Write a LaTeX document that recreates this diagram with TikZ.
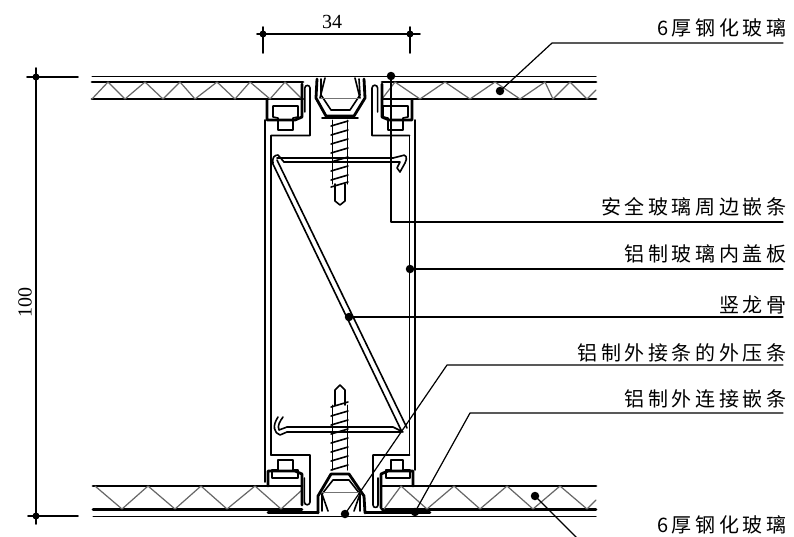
\documentclass[tikz,border=0pt]{standalone}
\usepackage{fontspec}
\setmainfont{Liberation Serif}
\newfontfamily\cjk[LetterSpace=18]{Noto Sans CJK SC}
\begin{document}
\begin{tikzpicture}[x=1pt,y=-1pt,line cap=round,line join=round,
 thinline/.style={line width=1pt},
 medline/.style={line width=1.6pt},
 heavyline/.style={line width=2.8pt},
 webline/.style={line width=1.2pt,black!60},
 leader/.style={line width=1.2pt},
 lab/.style={font=\cjk\fontsize{20}{22}\selectfont,anchor=base east,inner sep=0pt},
 num/.style={font=\fontsize{20}{22}\selectfont,inner sep=0pt},
 dotmark/.style={circle,fill=black,inner sep=0pt,minimum size=8.5pt},
 blob/.style={circle,fill=black,inner sep=0pt,minimum size=7pt}]
\useasboundingbox (0,0) rectangle (794,536);
\fill[white] (0,0) rectangle (794,536);
% ---- top panel
\draw[thinline] (92,76.5) -- (596,76.5);
\draw[heavyline] (92,82) -- (303,82) (382,82) -- (596,82);
\draw[heavyline] (92,99) -- (303,99) (382,99) -- (596,99);
\draw[webline] (92,99) -- (108,82) -- (125,99) -- (145,82) -- (163,99) -- (180,82) -- (195,99) -- (217,82) -- (235,99) -- (250,82) -- (270,99) -- (285,82) -- (302,99);
\draw[webline] (382,99) -- (395,82) -- (420,99) -- (445,82) -- (470,99) -- (495,82) -- (520,99) -- (545,82) -- (553,99) -- (570,82) -- (587,99) -- (596,90);
% ---- bottom panel
\draw[heavyline] (93,486) -- (302,486) (382,486) -- (596,486);
\draw[heavyline] (93,509.5) -- (302,509.5) (382,509.5) -- (596,509.5);
\draw[thinline] (93,516) -- (596,516);
\draw[heavyline] (268,512.5) -- (318,512.5) (366,512.5) -- (430,512.5);
\draw[webline] (95,486) -- (122,509) -- (148,486) -- (175,509) -- (201,486) -- (227,509) -- (255,486) -- (281,509) -- (302,490);
\draw[webline] (384,509) -- (401,486) -- (427,509) -- (454,486) -- (480,509) -- (507,486) -- (533,509) -- (560,486) -- (587,509) -- (596,500);
% ---- mullion, top half
\draw[medline] (265,120) -- (265,482);
\draw[medline] (271,136) -- (271,455);
\draw[medline] (415,120) -- (415,470);
\draw[medline] (409.5,136) -- (409.5,455);
\draw[medline] (271,135.5) -- (310,135.5) -- (310,88) arc (0:-180:2.6) -- (304.8,112);
\draw[medline] (409.5,135.5) -- (372,135.5) -- (372,88) arc (180:360:2.8) -- (377.6,112);
% top gasket seats
\draw[heavyline] (302,84) -- (302,117) -- (295,120) -- (267,120) -- (267,100);
\draw[heavyline] (382,84) -- (382,117) -- (389,120) -- (412,120) -- (412,100);
\draw[medline] (273,106) -- (298,106) -- (298,117) -- (293,118) -- (293,130) -- (278,130) -- (278,118) -- (273,117) -- cycle;
\draw[medline] (383,106) -- (408,106) -- (408,117) -- (403,118) -- (403,130) -- (388,130) -- (388,118) -- (383,117) -- cycle;
% top cover cap
\draw[heavyline] (317,79) -- (316,98) -- (326,116) -- (354,116) -- (365,98) -- (364,79);
\draw[medline] (321,79) -- (321,95) -- (331,110) -- (350,110) -- (360,95) -- (359,79);
\draw[medline] (325,78) -- (320,98) (355,78) -- (360,98);
\draw[thinline,black!55] (320,98) -- (360,98);
\draw[medline] (322,118) -- (358,118);
\draw[thinline] (303,76.5) -- (314,76.5) (366,76.5) -- (382,76.5);
% top screw
\draw[thinline] (332,120) -- (332,184) (347,120) -- (347,184);
\draw[medline] (335,184) -- (335,201) -- (340,205) -- (345,201) -- (345,184);
\foreach \yy in {126,135,144,153,162,171,180,187}{
  \draw[medline] (331,\yy) -- (348,\yy-5);}
% top channel
\draw[medline] (277,158) -- (393,158) (284,162) -- (393,162);
\draw[medline] (284,162) -- (278,155) .. controls (274,155) and (272,158) .. (273,163);
\draw[medline] (393,158) -- (401,156) .. controls (406,153) and (408,158) .. (405,163) -- (400,172) -- (397,168) -- (400,162) -- (393,162);
% diagonal web
\draw[medline] (272,162) -- (402,432);
\draw[medline] (277,160) -- (407,428);
% ---- mullion, bottom half
\draw[medline] (271,455) -- (310,455) -- (310,502) arc (0:180:2.8) -- (304.4,478);
\draw[medline] (409.5,455) -- (373,455) -- (373,505) arc (180:0:2.5) -- (378,478);
% bottom gasket seats
\draw[heavyline] (302,505) -- (302,474) -- (295,471) -- (268,471) -- (268,486);
\draw[heavyline] (381,508) -- (381,474) -- (388,471) -- (413,471) -- (413,486);
\draw[medline] (272,478) -- (298,478) -- (298,470) -- (293,470) -- (293,460) -- (278,460) -- (278,470) -- (272,470) -- cycle;
\draw[medline] (386,478) -- (410,478) -- (410,470) -- (403,470) -- (403,460) -- (391,460) -- (391,470) -- (386,470) -- cycle;
% bottom cover cap
\draw[heavyline] (318,513) -- (318,496) -- (331,474) -- (349,474) -- (364,496) -- (365,513);
\draw[medline] (322,511) -- (322,494) -- (333,480) -- (349,480) -- (360,494) -- (360,511);
\draw[medline] (328,511) -- (322,494) (354,511) -- (360,494);
\draw[thinline,black!55] (322,492) -- (360,492);
% bottom screw
\draw[thinline] (332,405) -- (332,470) (347,405) -- (347,470);
\draw[medline] (335,405) -- (335,390) -- (340,385) -- (345,390) -- (345,405);
\foreach \yy in {407,416,425,434,443,452,461,470}{
  \draw[medline] (331,\yy) -- (348,\yy-5);}
% bottom channel
\draw[medline] (287,427) -- (393,427) -- (403,432) (287,432) -- (400,432);
\draw[medline] (287,427) -- (279,430) .. controls (277,426) and (280,421) .. (283,417) (287,432) -- (280,435) .. controls (274,433) and (272,426) .. (278,417);
% ---- dimensions
\coordinate (d1) at (263,34); \coordinate (d2) at (410,34);
\coordinate (d1a) at (257,34); \coordinate (d2a) at (420,34);
\coordinate (d1b) at (263,53); \coordinate (d2b) at (410,53);
\coordinate (d1c) at (263,27); \coordinate (d2c) at (410,27);
\draw[medline] (d1a) -- (d2a);
\draw[medline] (d1c) -- (d1b) (d2c) -- (d2b);
\node[blob] at (d1) {}; \node[blob] at (d2) {};
\node[num] (dimtop) at (332,22) {34};
\coordinate (v1) at (36,77); \coordinate (v2) at (36,516);
\coordinate (v1a) at (27,77); \coordinate (v1b) at (78,77);
\coordinate (v2a) at (28,516); \coordinate (v2b) at (78,516);
\coordinate (v1c) at (36,68); \coordinate (v2c) at (36,524);
\draw[medline] (v1c) -- (v2c);
\draw[medline] (v1a) -- (v1b) (v2a) -- (v2b);
\node[blob] at (v1) {}; \node[blob] at (v2) {};
\node[num,rotate=90] (dimleft) at (25,302) {100};
% ---- leaders and labels
\node[dotmark] (pA) at (500,91) {};
\node[dotmark] (pB) at (391,76) {};
\node[dotmark] (pC) at (410,269) {};
\node[dotmark] (pD) at (349,317) {};
\node[dotmark] (pE) at (345,514) {};
\node[dotmark] (pF) at (415,512) {};
\node[dotmark] (pG) at (535,496) {};
\coordinate (kA) at (552,43); \coordinate (eA) at (783,43);
\coordinate (kB) at (391,222); \coordinate (eB) at (783,222);
\coordinate (eC) at (783,269);
\coordinate (eD) at (783,317);
\coordinate (kE) at (447,365); \coordinate (eE) at (783,365);
\coordinate (kF) at (470,413); \coordinate (eF) at (783,413);
\coordinate (kG) at (577,538);
\draw[leader] (pA.center) -- (kA) -- (eA);
\draw[leader] (pB.center) -- (kB) -- (eB);
\draw[leader] (pC.center) -- (eC);
\draw[leader] (pD.center) -- (eD);
\draw[leader] (pE.center) -- (kE) -- (eE);
\draw[leader] (pF.center) -- (kF) -- (eF);
\draw[leader] (pG.center) -- (kG);
\node[lab] (tA) at (786.5,35) {6厚钢化玻璃};
\node[lab] (tB) at (786.5,214) {安全玻璃周边嵌条};
\node[lab] (tC) at (786.5,261) {铝制玻璃内盖板};
\node[lab] (tD) at (786.5,312) {竖龙骨};
\node[lab] (tE) at (786.5,360) {铝制外接条的外压条};
\node[lab] (tF) at (786.5,406) {铝制外连接嵌条};
\node[lab] (tG) at (786.5,532) {6厚钢化玻璃};
\end{tikzpicture}
\end{document}
